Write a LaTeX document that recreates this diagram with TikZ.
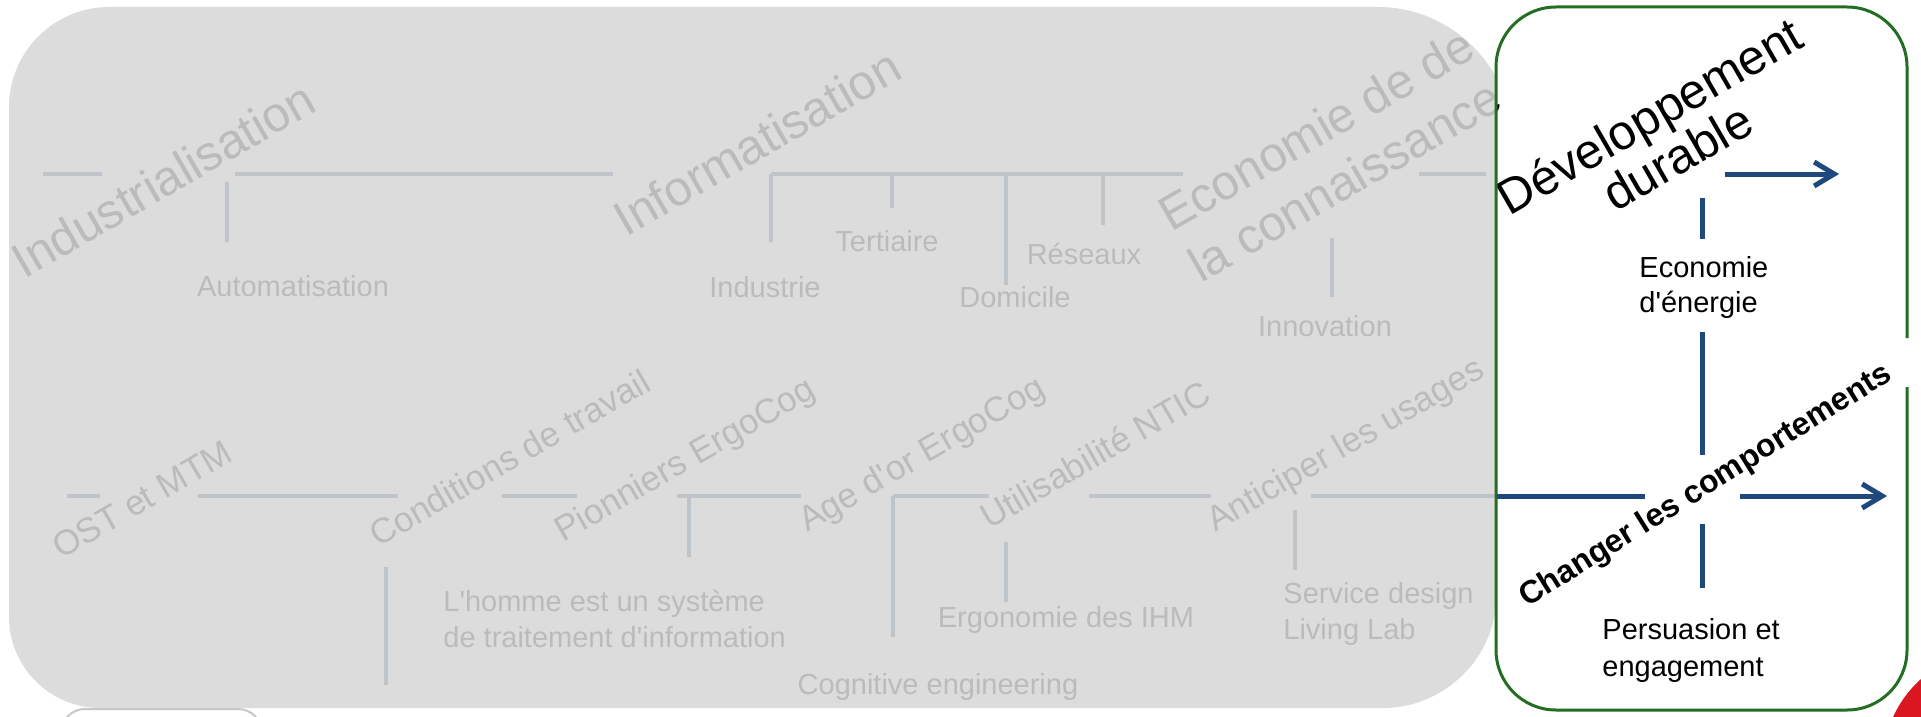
\documentclass[tikz,border=0pt]{standalone}
\usepackage{fontspec}
\setmainfont{Liberation Sans}[Ligatures=TeXOff]
\usetikzlibrary{arrows.meta}
\definecolor{lineblue}{HTML}{1F497D}
\definecolor{boxgreen}{RGB}{35,110,35}
\definecolor{veil}{RGB}{215,215,215}
\definecolor{logored}{RGB}{218,22,32}
\tikzset{
  lbl/.style={inner sep=0pt, font=\fontsize{14.5}{17}\selectfont},
  era/.style={inner sep=0pt, anchor=base west, rotate=30, font=\fontsize{24.5}{29}\selectfont},
  phase/.style={inner sep=0pt, anchor=base west, rotate=30, font=\fontsize{17.5}{21}\selectfont},
  bar/.style={lineblue, line width=2.5pt},
  pastbar/.style={lineblue, line width=2pt},
  arr/.style={bar, -{Straight Barb[length=10pt,width=12pt]}},
}
\begin{document}
\begin{tikzpicture}[x=0.5pt,y=-0.5pt]
\clip (0,0) rectangle (1921,717);
\fill[white] (0,0) rectangle (1921,717);

% ---------- coordinates: top row
\coordinate (ta1) at (43,174);   \coordinate (ta2) at (102,174);
\coordinate (tb1) at (235,174);  \coordinate (tb2) at (613,174);
\coordinate (tc1) at (771,174);  \coordinate (tc2) at (1183,174);
\coordinate (td1) at (1419,174); \coordinate (td2) at (1486,174);
\coordinate (te1) at (1725,174); \coordinate (te2) at (1839,174);
\coordinate (kA1) at (227,182);  \coordinate (kA2) at (227,242);
\coordinate (kB2) at (771,242);
\coordinate (kC1) at (892,174);  \coordinate (kC2) at (892,208);
\coordinate (kD1) at (1006,174); \coordinate (kD2) at (1006,285);
\coordinate (kE1) at (1103,174); \coordinate (kE2) at (1103,225);
\coordinate (kF1) at (1332,238); \coordinate (kF2) at (1332,297);
% vertical in box
\coordinate (v1) at (1702,198); \coordinate (v2) at (1702,239);
\coordinate (v3) at (1702,332); \coordinate (v4) at (1702,455);
\coordinate (v5) at (1702,524); \coordinate (v6) at (1702,588);
% lower row
\coordinate (la1) at (67,496);   \coordinate (la2) at (100,496);
\coordinate (lb1) at (198,496);  \coordinate (lb2) at (398,496);
\coordinate (lc1) at (502,496);  \coordinate (lc2) at (577,496);
\coordinate (ld1) at (677,496);  \coordinate (ld2) at (801,496);
\coordinate (le1) at (893,496);  \coordinate (le2) at (989,496);
\coordinate (lf1) at (1089,496); \coordinate (lf2) at (1211,496);
\coordinate (lg1) at (1311,496); \coordinate (lgm) at (1496,496); \coordinate (lg2) at (1645,496);
\coordinate (lh1) at (1740,496); \coordinate (lh2) at (1887,496);
\coordinate (mA1) at (386,567);  \coordinate (mA2) at (386,685);
\coordinate (mB1) at (689,496);  \coordinate (mB2) at (689,557);
\coordinate (mC2) at (893,637);
\coordinate (mD1) at (1006,542); \coordinate (mD2) at (1006,602);
\coordinate (mE1) at (1295,510); \coordinate (mE2) at (1295,570);

% ---------- partly hidden shape, bottom left
\draw[black!22, line width=1pt, fill=white, rounded corners=12pt] (61,709) rectangle (262,790);

% ---------- connectors (past, under the veil)
\draw[pastbar] (ta1) -- (ta2);
\draw[pastbar] (tb1) -- (tb2);
\draw[pastbar] (tc1) -- (tc2);
\draw[pastbar] (td1) -- (td2);
\draw[pastbar] (kA1) -- (kA2);
\draw[pastbar] (tc1) -- (kB2);
\draw[pastbar] (kC1) -- (kC2);
\draw[pastbar] (kD1) -- (kD2);
\draw[pastbar] (kE1) -- (kE2);
\draw[pastbar] (kF1) -- (kF2);
\draw[pastbar] (la1) -- (la2);
\draw[pastbar] (lb1) -- (lb2);
\draw[pastbar] (lc1) -- (lc2);
\draw[pastbar] (ld1) -- (ld2);
\draw[pastbar] (le1) -- (le2);
\draw[pastbar] (lf1) -- (lf2);
\draw[pastbar] (lg1) -- (lgm);
\draw[pastbar] (mA1) -- (mA2);
\draw[pastbar] (mB1) -- (mB2);
\draw[pastbar] (le1) -- (mC2);
\draw[pastbar] (mD1) -- (mD2);
\draw[pastbar] (mE1) -- (mE2);
% ---------- connectors (present, in the green frame)
\draw[arr] (te1) -- (te2);
\draw[bar] (v1) -- (v2);
\draw[bar] (v3) -- (v4);
\draw[bar] (v5) -- (v6);
\draw[bar] (lgm) -- (lg2);
\draw[arr] (lh1) -- (lh2);

% ---------- eras
\node[era] (indus) at (24,280) {Industrialisation};
\node[era] (info) at (626,238) {Informatisation};
\node[era] (eco1) at (1171,233) {Economie de de};
\node[era] (eco2) at (1201,284) {la connaissance};
\node[era] (dev1) at (1509,217) {Développement};
\node[era] (dev2) at (1615,213) {durable};

% ---------- labels, top
\node[lbl, anchor=base] (auto) at (293,296) {Automatisation};
\node[lbl, anchor=base] (indu) at (765,297) {Industrie};
\node[lbl, anchor=base] (tert) at (887,251) {Tertiaire};
\node[lbl, anchor=base] (domi) at (1015,307) {Domicile};
\node[lbl, anchor=base] (rese) at (1084,264) {Réseaux};
\node[lbl, anchor=base] (inno) at (1325,336) {Innovation};
\node[lbl, anchor=base west] (ener1) at (1639,277) {Economie};
\node[lbl, anchor=base west] (ener2) at (1639,312) {d'énergie};

% ---------- phases
\node[phase] (ost) at (61,560) {OST et MTM};
\node[phase] (cond) at (378,548) {Conditions de travail};
\node[phase] (pion) at (563,543) {Pionniers ErgoCog};
\node[phase] (age) at (807,533) {Age d'or ErgoCog};
\node[phase] (util) at (989,530) {Utilisabilité NTIC};
\node[phase] (anti) at (1215,533) {Anticiper les usages};
\node[phase, rotate=2, font=\bfseries\fontsize{16}{19}\selectfont] (chg) at (1527,608) {Changer les comportements};

% ---------- labels, bottom
\node[lbl, anchor=base west] (hom1) at (443,611) {L'homme est un système};
\node[lbl, anchor=base west] (hom2) at (443,647) {de traitement d'information};
\node[lbl, anchor=base] (ihm) at (1066,627) {Ergonomie des IHM};
\node[lbl, anchor=base] (cog) at (938,694) {Cognitive engineering};
\node[lbl, anchor=base west] (serv1) at (1283,603) {Service design};
\node[lbl, anchor=base west] (serv2) at (1283,639) {Living Lab};
\node[lbl, anchor=base west] (pers1) at (1602,639) {Persuasion et};
\node[lbl, anchor=base west] (pers2) at (1602,676) {engagement};

% ---------- grey veil over the past
\fill[veil, fill opacity=0.87]
  (109,7) -- (1378,7) .. controls (1427,7) and (1472,34) .. (1496,77)
  -- (1496,597) .. controls (1496,658) and (1444,708) .. (1383,708)
  -- (100,708) .. controls (50,708) and (9,667) .. (9,617)
  -- (9,107) .. controls (9,52) and (54,7) .. (109,7) -- cycle;

% ---------- green frame (open on the right)
\draw[boxgreen, line width=1.5pt, rounded corners=30pt]
  (1907,387) -- (1907,710) -- (1496,710) -- (1496,7) -- (1907,7) -- (1907,338);

% ---------- red corner
\fill[logored] (1893,717) .. controls (1901,700) and (1910,689) .. (1921,679) -- (1921,717) -- cycle;
\end{tikzpicture}
\end{document}
